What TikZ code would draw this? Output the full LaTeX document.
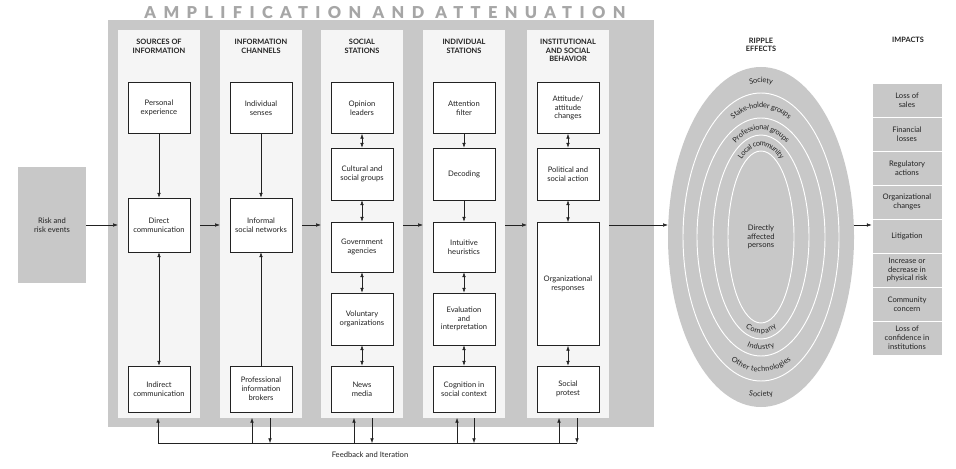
\documentclass[tikz,border=0pt]{standalone}
\usepackage{fontspec}
\setmainfont{Lato}
\newfontfamily\titlefont[LetterSpace=45]{Lato Black}
\usetikzlibrary{arrows.meta,decorations.text,shapes.geometric,calc}
\definecolor{panel}{HTML}{C8C8C8}
\definecolor{lane}{HTML}{F5F5F5}
\definecolor{ink}{HTML}{222222}
\tikzset{
  box/.style={draw=ink,thick,fill=white,minimum width=1.86cm,align=center,font=\fontsize{6.5}{7.5}\selectfont,text=ink},
  lane/.style={fill=lane,draw=none,minimum width=2.46cm,minimum height=11.64cm},
  head/.style={font=\fontsize{6.3}{7.3}\selectfont\bfseries,align=center,text=ink},
  impact/.style={fill=panel,draw=white,thick,minimum width=2.1cm,minimum height=1.02cm,align=center,font=\fontsize{6.5}{7.5}\selectfont,text=ink},
  arr/.style={-{Latex[length=4pt,width=3pt]},ink},
  darr/.style={{Latex[length=4pt,width=3pt]}-{Latex[length=4pt,width=3pt]},ink},
  ring/.style={draw=white,thick},
  ringtext/.style={decorate,decoration={text along path,text align=center,raise=-2.4pt,text={|\fontsize{6.3}{7}\selectfont\color{ink}|#1}}}
}
\begin{document}
\begin{tikzpicture}[x=0.03cm,y=0.03cm]
  \useasboundingbox (0,0) rectangle (956,468);

  % Risk events
  \node[fill=panel,minimum width=2.04cm,minimum height=3.48cm,font=\fontsize{6.5}{7.5}\selectfont,align=center,text=ink] (risk) at (52,243) {Risk and\\risk events};

  % Amplification frame
  \fill[panel] (108,41) rectangle (654,448);
  \node[text=gray!70,font=\titlefont\fontsize{14}{15}\selectfont] (title) at (385,455) {AMPLIFICATION AND ATTENUATION};

  % Lanes
  \node[lane] (lane1) at (159,244) {};
  \node[lane] (lane2) at (261,244) {};
  \node[lane] (lane3) at (362,244) {};
  \node[lane] (lane4) at (464,244) {};
  \node[lane] (lane5) at (568,244) {};

  % Headings
  \node[head,anchor=north] at (159,433) {SOURCES OF\\INFORMATION};
  \node[head,anchor=north] at (261,433) {INFORMATION\\CHANNELS};
  \node[head,anchor=north] at (362,433) {SOCIAL\\STATIONS};
  \node[head,anchor=north] at (464,433) {INDIVIDUAL\\STATIONS};
  \node[head,anchor=north] at (568,433) {INSTITUTIONAL\\AND SOCIAL\\BEHAVIOR};

  % Sources of information
  \node[box,minimum height=1.53cm] (personal) at (159,360) {Personal\\experience};
  \node[box,minimum height=1.62cm] (direct) at (159,243) {Direct\\communication};
  \node[box,minimum height=1.38cm] (indirect) at (159,79) {Indirect\\communication};

  % Information channels
  \node[box,minimum height=1.53cm] (senses) at (261,360) {Individual\\senses};
  \node[box,minimum height=1.62cm] (informal) at (261,243) {Informal\\social networks};
  \node[box,minimum height=1.38cm] (brokers) at (261,79) {Professional\\information\\brokers};

  % Social stations
  \node[box,minimum height=1.53cm] (opinion) at (362,360) {Opinion\\leaders};
  \node[box,minimum height=1.56cm] (cultural) at (362,294) {Cultural and\\social groups};
  \node[box,minimum height=1.50cm] (government) at (362,221) {Government\\agencies};
  \node[box,minimum height=1.56cm] (voluntary) at (362,149) {Voluntary\\organizations};
  \node[box,minimum height=1.38cm] (news) at (362,79) {News\\media};

  % Individual stations
  \node[box,minimum height=1.53cm] (attention) at (464,360) {Attention\\filter};
  \node[box,minimum height=1.56cm] (decoding) at (464,294) {Decoding};
  \node[box,minimum height=1.50cm] (heuristics) at (464,221) {Intuitive\\heuristics};
  \node[box,minimum height=1.56cm] (evaluation) at (464,149) {Evaluation\\and\\interpretation};
  \node[box,minimum height=1.38cm] (cognition) at (464,79) {Cognition in\\social context};

  % Institutional and social behavior
  \node[box,minimum height=1.53cm] (attitude) at (568,360) {Attitude/\\attitude\\changes};
  \node[box,minimum height=1.56cm] (political) at (568,294) {Political and\\social action};
  \node[box,minimum height=3.69cm] (organizational) at (568,184) {Organizational\\responses};
  \node[box,minimum height=1.38cm] (protest) at (568,79) {Social\\protest};

  % Links inside lanes
  \draw[arr] (personal) -- (direct);
  \draw[darr] (direct) -- (indirect);
  \draw[arr] (senses) -- (informal);
  \draw[arr] (brokers) -- (informal);
  \draw[darr] (opinion) -- (cultural);
  \draw[darr] (cultural) -- (government);
  \draw[darr] (government) -- (voluntary);
  \draw[darr] (voluntary) -- (news);
  \draw[arr] (attention) -- (decoding);
  \draw[arr] (decoding) -- (heuristics);
  \draw[darr] (heuristics) -- (evaluation);
  \draw[darr] (evaluation) -- (cognition);
  \draw[darr] (attitude) -- (political);
  \draw[darr] (political) -- (organizational);
  \draw[darr] (organizational) -- (protest);

  % Ripple effects
  \node[head] at (761,423) {RIPPLE\\EFFECTS};
  \node[ellipse,fill=panel,draw=none,inner sep=0pt,minimum width=5.58cm,minimum height=10.2cm] (ripple) at (761,231) {};
  \draw[ring] (761,231) ellipse [x radius=78,y radius=144];
  \draw[ring] (761,231) ellipse [x radius=64,y radius=119];
  \draw[ring] (761,231) ellipse [x radius=48,y radius=102];
  \draw[ring] (761,231) ellipse [x radius=33,y radius=86];
  \node[font=\fontsize{6.5}{7.5}\selectfont,align=center,text=ink] (persons) at (761,231) {Directly\\affected\\persons};
  \path[ringtext=Society] ($(761,231)+(150:85 and 157)$) arc[start angle=150,end angle=30,x radius=85,y radius=157];
  \path[ringtext=Stake-holder groups] ($(761,231)+(160:71 and 132)$) arc[start angle=160,end angle=20,x radius=71,y radius=132];
  \path[ringtext=Professional groups] ($(761,231)+(165:56 and 110)$) arc[start angle=165,end angle=15,x radius=56,y radius=110];
  \path[ringtext=Local community] ($(761,231)+(170:40 and 94)$) arc[start angle=170,end angle=10,x radius=40,y radius=94];
  \path[ringtext=Company] ($(761,231)+(190:40 and 94)$) arc[start angle=190,end angle=350,x radius=40,y radius=94];
  \path[ringtext=Industry] ($(761,231)+(195:56 and 110)$) arc[start angle=195,end angle=345,x radius=56,y radius=110];
  \path[ringtext=Other technologies] ($(761,231)+(200:71 and 132)$) arc[start angle=200,end angle=340,x radius=71,y radius=132];
  \path[ringtext=Society] ($(761,231)+(210:85 and 157)$) arc[start angle=210,end angle=330,x radius=85,y radius=157];

  % Impacts
  \node[head] at (908,428) {IMPACTS};
  \node[impact] (imp1) at (907,368) {Loss of\\sales};
  \node[impact] (imp2) at (907,334) {Financial\\losses};
  \node[impact] (imp3) at (907,300) {Regulatory\\actions};
  \node[impact] (imp4) at (907,266) {Organizational\\changes};
  \node[impact] (imp5) at (907,232) {Litigation};
  \node[impact] (imp6) at (907,198) {Increase or\\decrease in\\physical risk};
  \node[impact] (imp7) at (907,164) {Community\\concern};
  \node[impact] (imp8) at (907,130) {Loss of\\confidence in\\institutions};

  % Main flow
  \draw[arr] (risk.east) -- (lane1.west |- risk.east);
  \draw[arr] (direct.east -| lane1.east) -- (direct.east -| lane2.west);
  \draw[arr] (direct.east -| lane2.east) -- (direct.east -| lane3.west);
  \draw[arr] (direct.east -| lane3.east) -- (direct.east -| lane4.west);
  \draw[arr] (direct.east -| lane4.east) -- (direct.east -| lane5.west);
  \draw[arr] (direct.east -| lane5.east) -- (direct.east -| ripple.west);
  \draw[arr] (direct.east -| ripple.east) -- (direct.east -| imp5.west);

  % Feedback and iteration
  \coordinate (fbl) at (158,25);
  \coordinate (fbr) at (577,25);
  \draw[ink] (fbl) -- (fbr);
  \node[font=\fontsize{6.5}{7.5}\selectfont,text=ink] (feedback) at (370,13) {Feedback and Iteration};
  \foreach \x in {158,252,354,457,559}
    \draw[arr] (\x,25) -- (\x,50);
  \foreach \x in {270,372,474,577}
    \draw[arr] (\x,50) -- (\x,25);
\end{tikzpicture}
\end{document}
